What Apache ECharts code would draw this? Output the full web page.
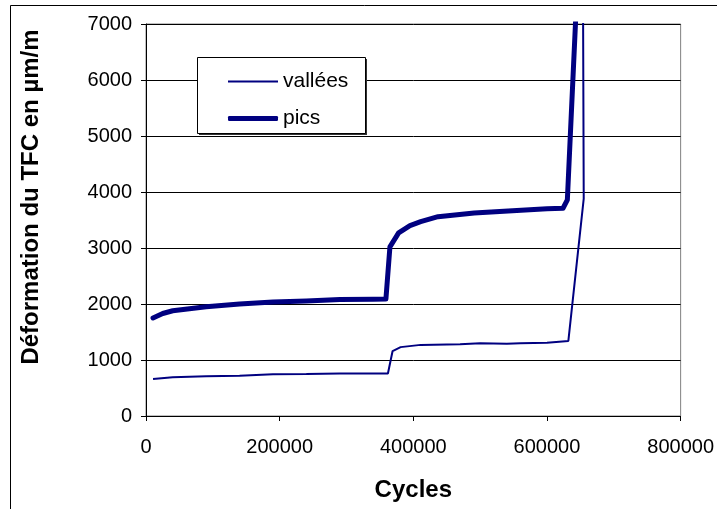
<!DOCTYPE html>
<html>
<head>
<meta charset="utf-8">
<script src="https://cdn.jsdelivr.net/npm/echarts@6/dist/echarts.min.js"></script>
<style>
  html, body { margin: 0; padding: 0; background: #fff; }
  #chart { width: 717px; height: 509px; }
</style>
</head>
<body>
<div id="chart"></div>
<script>
// valeurs
const valleesCycles = [10500, 40000, 90000, 140000, 190000, 240000, 290000, 340000, 362000, 369000, 381000, 411000, 470000, 500000, 540000, 560000, 600000, 632000, 655000, 654000]
const valleesDef = [660, 690, 710, 720, 745, 750, 760, 760, 760, 1160, 1230, 1270, 1280, 1300, 1290, 1300, 1310, 1340, 3880, 7300]

const picsCycles = [10500, 25000, 40000, 90000, 140000, 190000, 240000, 290000, 340000, 359000, 365000, 378000, 395000, 411000, 437000, 491000, 542000, 600000, 624000, 630500, 643000]
const picsDef = [1750, 1830, 1880, 1950, 2000, 2035, 2055, 2080, 2085, 2090, 3020, 3270, 3400, 3470, 3560, 3625, 3660, 3700, 3710, 3860, 7100]

const xTicks = [0, 200000, 400000, 600000, 800000]
const yTicks = [0, 1000, 2000, 3000, 4000, 5000, 6000, 7000]

const font = "'Liberation Sans', Arial, sans-serif"
const navy = '#000080'

const pairs = (xs, ys) => xs.map((x, i) => [x, ys[i]])

const chart = echarts.init(document.getElementById('chart'))

chart.setOption({
  animation: false,
  backgroundColor: '#fff',
  grid: {
    left: 146,
    right: 36,
    top: 24,
    bottom: 93,
    show: true,
    borderColor: '#808080',
    borderWidth: 1,
  },
  xAxis: {
    type: 'value',
    min: xTicks[0],
    max: xTicks[xTicks.length - 1],
    interval: xTicks[1] - xTicks[0],
    name: 'Cycles',
    nameLocation: 'middle',
    nameGap: 62,
    nameTextStyle: { fontFamily: font, fontSize: 24, fontWeight: 'bold', color: '#000' },
    axisLine: { lineStyle: { color: '#000', width: 1 } },
    axisTick: { inside: false, length: 5, lineStyle: { color: '#000' } },
    axisLabel: { fontFamily: font, fontSize: 20, color: '#000', margin: 21, formatter: v => String(v) },
    splitLine: { show: false },
  },
  yAxis: {
    type: 'value',
    min: yTicks[0],
    max: yTicks[yTicks.length - 1],
    interval: yTicks[1] - yTicks[0],
    axisLine: { show: true, lineStyle: { color: '#000', width: 1 } },
    axisTick: { show: true, inside: false, length: 5, lineStyle: { color: '#000' } },
    axisLabel: { fontFamily: font, fontSize: 20, color: '#000', margin: 14, formatter: v => String(v) },
    splitLine: { show: true, lineStyle: { color: '#000', width: 1 } },
  },
  legend: [
    {
      data: ['vallées'],
      left: 223,
      top: 66,
      icon: 'rect',
      itemWidth: 50,
      itemHeight: 2,
      z: 10,
      textStyle: { fontFamily: font, fontSize: 21, color: '#000' },
    },
    {
      data: ['pics'],
      left: 223,
      top: 103,
      icon: 'roundRect',
      itemWidth: 50,
      itemHeight: 5,
      z: 10,
      textStyle: { fontFamily: font, fontSize: 21, color: '#000' },
    },
  ],
  graphic: [
    // ombre de la légende
    {
      type: 'rect',
      z: 5,
      shape: { x: 199, y: 59, width: 168, height: 76 },
      style: { fill: '#333', stroke: null },
    },
    {
      type: 'rect',
      z: 6,
      shape: { x: 197.5, y: 57.5, width: 168, height: 76 },
      style: { fill: '#fff', stroke: '#000', lineWidth: 1 },
    },
    // titre de l'axe vertical
    {
      type: 'text',
      z: 10,
      x: 31,
      y: 197,
      rotation: Math.PI / 2,
      style: {
        text: 'Déformation du TFC en µm/m',
        fontFamily: font,
        fontSize: 24,
        fontWeight: 'bold',
        fill: '#000',
        align: 'center',
        verticalAlign: 'middle',
      },
    },
    // cadre du graphique
    {
      type: 'rect',
      z: 20,
      shape: { x: 10.5, y: 5.5, width: 720, height: 520 },
      style: { fill: 'none', stroke: '#000', lineWidth: 1 },
    },
  ],
  series: [
    {
      name: 'vallées',
      type: 'line',
      symbol: 'none',
      clip: true,
      color: navy,
      lineStyle: { color: navy, width: 2 },
      data: pairs(valleesCycles, valleesDef),
    },
    {
      name: 'pics',
      type: 'line',
      symbol: 'none',
      clip: true,
      color: navy,
      lineStyle: { color: navy, width: 5, join: 'round', cap: 'round' },
      data: pairs(picsCycles, picsDef),
    },
  ],
})
</script>
</body>
</html>
